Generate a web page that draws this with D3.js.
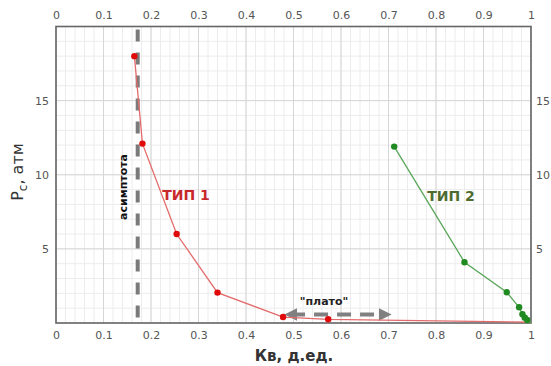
<!DOCTYPE html>
<html>
<head>
<meta charset="utf-8">
<script src="https://cdn.jsdelivr.net/npm/d3@7"></script>
<style>
  body { margin: 0; background: #fff; }
  svg text { font-family: "DejaVu Sans", Verdana, sans-serif; }
</style>
</head>
<body>
<svg id="chart" width="551" height="366"></svg>
<script>
// data
var type1 = [[0.165, 18], [0.182, 12.1], [0.254, 6], [0.34, 2.05], [0.478, 0.4], [0.573, 0.25], [1, 0.05]];
var type2 = [[0.712, 11.9], [0.86, 4.1], [0.949, 2.07], [0.975, 1.06], [0.982, 0.59], [0.987, 0.36], [0.992, 0.2], [1, 0]];
var type2Dots = type2.slice(0, 7);
var xTicks = [0, 0.1, 0.2, 0.3, 0.4, 0.5, 0.6, 0.7, 0.8, 0.9, 1];
var yTicks = [5, 10, 15];
var asymptoteX = 0.172;
var plateau = [0.478, 0.71, 0.57];

var svg = d3.select('#chart');
var m = {left: 56, right: 531, top: 26.5, bottom: 323};

var x = d3.scaleLinear().domain([0, 1]).range([m.left, m.right]);
var y = d3.scaleLinear().domain([0, 20]).range([m.bottom, m.top]);

var fmt = function(d) { return d3.format('~g')(d); };

// grid
var grid = svg.append('g');
grid.selectAll('.vx').data(d3.range(0, 1.0001, 0.02)).enter()
    .append('line')
    .attr('x1', function(d) { return x(d); }).attr('x2', function(d) { return x(d); })
    .attr('y1', m.top).attr('y2', m.bottom)
    .attr('stroke', '#ececec').attr('stroke-width', 1);
grid.selectAll('.hy').data(d3.range(0, 20.001, 1)).enter()
    .append('line')
    .attr('y1', function(d) { return y(d); }).attr('y2', function(d) { return y(d); })
    .attr('x1', m.left).attr('x2', m.right)
    .attr('stroke', '#ececec').attr('stroke-width', 1);
grid.selectAll('.mx').data(xTicks).enter()
    .append('line')
    .attr('x1', function(d) { return x(d); }).attr('x2', function(d) { return x(d); })
    .attr('y1', m.top).attr('y2', m.bottom)
    .attr('stroke', '#d6d6d6').attr('stroke-width', 1);
grid.selectAll('.my').data(yTicks).enter()
    .append('line')
    .attr('y1', function(d) { return y(d); }).attr('y2', function(d) { return y(d); })
    .attr('x1', m.left).attr('x2', m.right)
    .attr('stroke', '#d6d6d6').attr('stroke-width', 1);

// axes labels via d3 axes
function styleAxis(g) {
    g.select('.domain').remove();
    g.selectAll('.tick line').remove();
    g.selectAll('.tick text').attr('fill', '#555').attr('font-size', 11)
        .attr('font-family', '"DejaVu Sans", Verdana, sans-serif');
}
svg.append('g').attr('transform', 'translate(0,' + m.top + ')')
    .call(d3.axisTop(x).tickValues(xTicks).tickFormat(fmt).tickSize(0).tickPadding(8))
    .call(styleAxis);
svg.append('g').attr('transform', 'translate(0,' + m.bottom + ')')
    .call(d3.axisBottom(x).tickValues(xTicks).tickFormat(fmt).tickSize(0).tickPadding(8))
    .call(styleAxis);
svg.append('g').attr('transform', 'translate(' + m.left + ',0)')
    .call(d3.axisLeft(y).tickValues(yTicks).tickFormat(fmt).tickSize(0).tickPadding(7))
    .call(styleAxis);
svg.append('g').attr('transform', 'translate(' + m.right + ',0)')
    .call(d3.axisRight(y).tickValues(yTicks).tickFormat(fmt).tickSize(0).tickPadding(5))
    .call(styleAxis);

// frame
svg.append('rect')
    .attr('x', m.left).attr('y', m.top)
    .attr('width', m.right - m.left).attr('height', m.bottom - m.top)
    .attr('fill', 'none').attr('stroke', '#666').attr('stroke-width', 1.6);

// asymptote
svg.append('line')
    .attr('x1', x(asymptoteX)).attr('x2', x(asymptoteX))
    .attr('y1', m.top + 3).attr('y2', m.bottom)
    .attr('stroke', '#7a7a7a').attr('stroke-width', 4)
    .attr('stroke-dasharray', '12,11');

// plateau arrow
var defs = svg.append('defs');
defs.append('marker').attr('id', 'ah').attr('viewBox', '0 0 10 10')
    .attr('refX', 5).attr('refY', 5).attr('markerWidth', 3.2).attr('markerHeight', 3.2)
    .attr('orient', 'auto-start-reverse').attr('markerUnits', 'strokeWidth')
    .append('path').attr('d', 'M0,0 L10,5 L0,10 z').attr('fill', '#808080');
svg.append('line')
    .attr('x1', x(plateau[0]) + 8).attr('x2', x(plateau[1]) - 8)
    .attr('y1', y(plateau[2])).attr('y2', y(plateau[2]))
    .attr('stroke', '#808080').attr('stroke-width', 4)
    .attr('stroke-dasharray', '14,9')
    .attr('marker-start', 'url(#ah)').attr('marker-end', 'url(#ah)');

// series
var line = d3.line().x(function(d) { return x(d[0]); }).y(function(d) { return y(d[1]); });

svg.append('path').datum(type1).attr('d', line)
    .attr('fill', 'none').attr('stroke', '#e36b6b').attr('stroke-width', 1.3);
svg.append('path').datum(type2).attr('d', line)
    .attr('fill', 'none').attr('stroke', '#5aa65a').attr('stroke-width', 1.3);

svg.selectAll('.d1').data(type1.slice(0, 6)).enter().append('circle')
    .attr('cx', function(d) { return x(d[0]); }).attr('cy', function(d) { return y(d[1]); })
    .attr('r', 3.2).attr('fill', '#e00a0a');
svg.selectAll('.d2').data(type2Dots).enter().append('circle')
    .attr('cx', function(d) { return x(d[0]); }).attr('cy', function(d) { return y(d[1]); })
    .attr('r', 3.2).attr('fill', '#1f8a1f');

// annotations
svg.append('text').attr('transform', 'translate(' + 127 + ',' + 187 + ') rotate(-90)')
    .attr('text-anchor', 'middle').attr('font-size', 11).attr('font-weight', 'bold')
    .attr('fill', '#111').text('асимптота');
svg.append('text').attr('x', 186).attr('y', 200)
    .attr('text-anchor', 'middle').attr('font-size', 14).attr('font-weight', 'bold')
    .attr('fill', '#c8282c').text('ТИП 1');
svg.append('text').attr('x', 451).attr('y', 201)
    .attr('text-anchor', 'middle').attr('font-size', 14).attr('font-weight', 'bold')
    .attr('fill', '#4d6b2e').text('ТИП 2');
svg.append('text').attr('x', 324).attr('y', 305)
    .attr('text-anchor', 'middle').attr('font-size', 11).attr('font-weight', 'bold')
    .attr('fill', '#222').text('"плато"');

// axis titles
var yt = svg.append('text').attr('transform', 'translate(23,172) rotate(-90)')
    .attr('text-anchor', 'middle').attr('font-size', 16).attr('fill', '#333');
yt.append('tspan').text('Р');
yt.append('tspan').attr('font-size', 12).attr('dy', 4).text('с');
yt.append('tspan').attr('dy', -4).text(', атм');

svg.append('text').attr('x', 294).attr('y', 361)
    .attr('text-anchor', 'middle').attr('font-size', 15).attr('font-weight', 'bold')
    .attr('fill', '#333').text('Кв, д.ед.');
</script>
</body>
</html>
